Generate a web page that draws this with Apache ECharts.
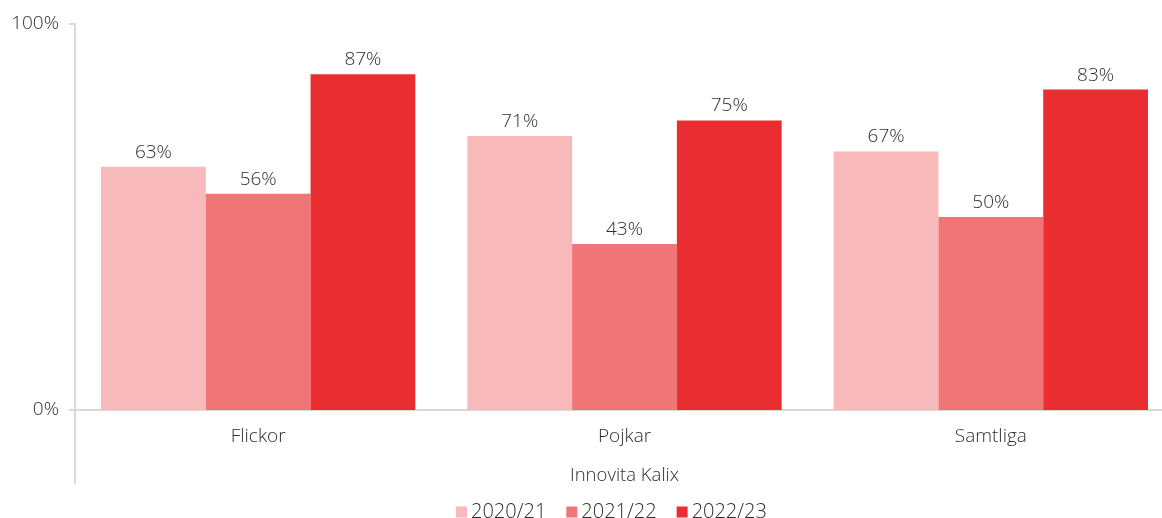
<!DOCTYPE html>
<html lang="sv">
<head>
    <meta charset="UTF-8">
    <title>Innovita Kalix</title>
    <script src="https://cdn.jsdelivr.net/npm/echarts@6/dist/echarts.min.js"></script>
    <style>
        html, body { margin: 0; padding: 0; background: #fff; overflow: hidden; }
        #main { width: 1174px; height: 518px; }
    </style>
</head>
<body>
<div id="main"></div>
<script type="text/javascript">
    var categories = ['Flickor', 'Pojkar', 'Samtliga'];
    var seriesNames = ['2020/21', '2021/22', '2022/23'];
    var values2021 = [63, 71, 67];
    var values2122 = [56, 43, 50];
    var values2223 = [87, 75, 83];
    var yTicks = [0, 100];
    var colors = ['#F8B9BA', '#F07577', '#E92D31'];

    var font = 'Open Sans';
    var textColor = '#2E2E2E';

    // chart is a bit wider than the window, the original was cut on the right
    var chart = echarts.init(document.getElementById('main'));

    var allValues = [values2021, values2122, values2223];
    var series = seriesNames.map(function (name, i) {
        return {
            name: name,
            type: 'bar',
            data: allValues[i],
            barGap: '0%',
            barCategoryGap: '14.2%',
            itemStyle: {color: colors[i]},
            label: {
                show: true,
                position: 'top',
                distance: 5,
                formatter: '{c}%',
                color: textColor,
                fontFamily: font,
                fontWeight: 300,
                fontSize: 19
            }
        };
    });

    var option = {
        animation: false,
        textStyle: {fontFamily: font},
        grid: {left: 75, right: 0, top: 24, bottom: 108, containLabel: false},
        legend: {
            top: 497,
            left: 451,
            itemWidth: 11,
            itemHeight: 11,
            itemGap: 20,
            icon: 'rect',
            textStyle: {color: textColor, fontSize: 20, fontWeight: 300, fontFamily: font, padding: [0, 0, 0, -1]},
            data: seriesNames
        },
        xAxis: {
            type: 'category',
            data: categories,
            name: 'Innovita Kalix',
            nameLocation: 'middle',
            nameGap: 56,
            nameTextStyle: {color: textColor, fontSize: 18.5, fontWeight: 300, fontFamily: font},
            axisLine: {lineStyle: {color: '#D9D9D9', width: 2}},
            axisTick: {show: false},
            axisLabel: {color: textColor, fontSize: 19, fontWeight: 300, fontFamily: font, margin: 17}
        },
        yAxis: {
            type: 'value',
            min: yTicks[0],
            max: yTicks[yTicks.length - 1],
            interval: yTicks[1] - yTicks[0],
            splitLine: {show: false},
            axisLine: {show: true, lineStyle: {color: '#D9D9D9', width: 2}},
            axisTick: {show: true, length: 6, lineStyle: {color: '#D9D9D9', width: 2}},
            axisLabel: {color: textColor, fontSize: 19, fontWeight: 300, fontFamily: font, margin: 16, formatter: '{value}%'}
        },
        graphic: [{
            type: 'line',
            shape: {x1: 75, y1: 410, x2: 75, y2: 484},
            style: {stroke: '#D9D9D9', lineWidth: 2}
        }],
        series: series
    };
    chart.setOption(option);
</script>
</body>
</html>
